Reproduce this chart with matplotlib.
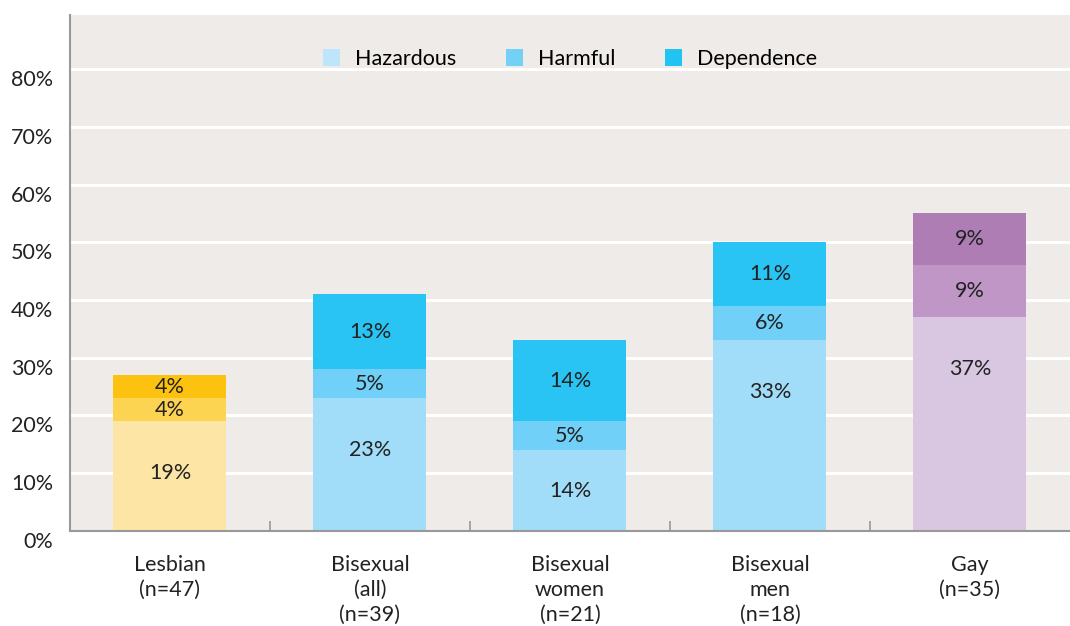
import numpy as np
import matplotlib
matplotlib.use('Agg')
from matplotlib import pyplot as plt
from matplotlib.patches import Patch
from matplotlib.transforms import ScaledTranslation

groups = ['Lesbian\n(n=47)', 'Bisexual\n(all)\n(n=39)', 'Bisexual\nwomen\n(n=21)',
          'Bisexual\nmen\n(n=18)', 'Gay\n(n=35)']
hazardous = [19, 23, 14, 33, 37]
harmful = [4, 5, 5, 6, 9]
dependence = [4, 13, 14, 11, 9]
series_names = ['Hazardous', 'Harmful', 'Dependence']

group_colors = [
    ['#FDE5A6', '#FDD452', '#FDC210'],
    ['#A1DDF8', '#70D0F7', '#29C4F4'],
    ['#A1DDF8', '#70D0F7', '#29C4F4'],
    ['#A1DDF8', '#70D0F7', '#29C4F4'],
    ['#D9C6E1', '#BF96C6', '#AD7DB4'],
]
legend_colors = ['#BDE6FA', '#74D1F6', '#21C3F3']


def main():
    plt.rcParams['font.family'] = ['Lato', 'DejaVu Sans']
    fs = 15.5
    fig = plt.figure(figsize=(10.7, 6.26), dpi=100)
    ax = fig.add_axes([0.0654, 0.1518, 0.9346, 0.8242])
    ax.set_facecolor('#EFEBE8')

    x = np.arange(len(groups))
    series = np.array([hazardous, harmful, dependence], dtype=float)
    bottoms = np.zeros(len(groups))
    width = 0.565
    for s in range(3):
        cols = [group_colors[g][s] for g in range(len(groups))]
        ax.bar(x, series[s], width, bottom=bottoms, color=cols, zorder=3)
        for g in range(len(groups)):
            v = series[s][g]
            top = bottoms[g] + v
            y = max(bottoms[g] + v / 2, top - 9)
            ax.text(x[g], y, f'{v:.0f}%', ha='center', va='center',
                    fontsize=fs, color='#222222', zorder=4)
        bottoms += series[s]

    ax.set_xlim(-0.5, len(groups) - 0.5)
    ax.set_ylim(0, 89.35)
    ax.set_yticks(np.arange(0, 81, 10))
    ax.set_yticklabels([f'{t}%' for t in range(0, 81, 10)], fontsize=fs, color='#222222')
    ax.yaxis.grid(True, color='white', linewidth=2.2, zorder=1)
    ax.set_axisbelow(True)
    ax.tick_params(axis='y', length=0, pad=12)
    offset = ScaledTranslation(0, -9 / 100, fig.dpi_scale_trans)
    for lab in ax.get_yticklabels():
        lab.set_transform(lab.get_transform() + offset)

    ax.set_xticks(x)
    ax.set_xticklabels(groups, fontsize=fs, color='#222222', linespacing=1.33)
    ax.tick_params(axis='x', which='major', length=0, pad=17)
    ax.set_xticks(x[:-1] + 0.5, minor=True)
    ax.tick_params(axis='x', which='minor', direction='in', length=7,
                   width=1.2, color='#999999')

    for side in ['top', 'right']:
        ax.spines[side].set_visible(False)
    for side in ['left', 'bottom']:
        ax.spines[side].set_color('#999999')
        ax.spines[side].set_linewidth(1.5)
        ax.spines[side].set_zorder(5)

    handles = [Patch(facecolor=c, edgecolor='none') for c in legend_colors]
    ax.legend(handles, series_names, loc='center', bbox_to_anchor=(0.5, 0.915),
              ncol=3, frameon=False, fontsize=fs, handlelength=0.8, handleheight=0.8,
              columnspacing=2.3, handletextpad=0.7)

    fig.savefig('out.png', dpi=100)


if __name__ == '__main__':
    main()
